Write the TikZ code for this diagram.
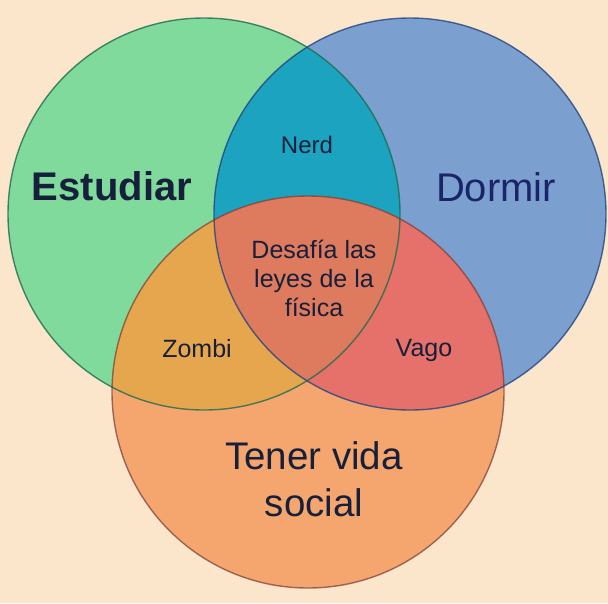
\documentclass[tikz,border=0pt]{standalone}
\usepackage{fontspec}
\setmainfont{Liberation Sans}
\definecolor{paper}{HTML}{FBE6CC}
\definecolor{estfill}{HTML}{80DA9C}
\definecolor{dorfill}{HTML}{7BA0D0}
\definecolor{socfill}{HTML}{F5A66E}
\definecolor{nerdfill}{HTML}{1BA3C0}
\definecolor{zombifill}{HTML}{E6A64E}
\definecolor{vagofill}{HTML}{E6706A}
\definecolor{corefill}{HTML}{DE7A5E}
\definecolor{estline}{HTML}{1F6B4F}
\definecolor{dorline}{HTML}{24457F}
\definecolor{socline}{HTML}{7A3A34}
\definecolor{inkdark}{HTML}{16203A}
\definecolor{inknavy}{HTML}{1B2468}

\begin{document}
\begin{tikzpicture}[x=1pt,y=-1pt,
    set label/.style={anchor=base,font=\fontsize{40}{44}\selectfont,text=inkdark},
    part label/.style={anchor=base,font=\fontsize{25}{29}\selectfont,text=inkdark,align=center}
                      ]
   \useasboundingbox (0,0) rectangle (608,603);
   \fill[paper] (0,0) rectangle (608,603);
   % centres of the three sets
   \coordinate (est) at (204,214);
   \coordinate (dor) at (410,214);
   \coordinate (soc) at (308,392);
   \def\rad{196pt}
   % plain discs
   \fill[estfill] (est) circle[radius=\rad];
   \fill[dorfill] (dor) circle[radius=\rad];
   \fill[socfill] (soc) circle[radius=\rad];
   % overlaps
   \begin{scope}
     \clip (est) circle[radius=\rad];
     \fill[nerdfill] (dor) circle[radius=\rad];
     \fill[zombifill] (soc) circle[radius=\rad];
   \end{scope}
   \begin{scope}
     \clip (dor) circle[radius=\rad];
     \fill[vagofill] (soc) circle[radius=\rad];
     \clip (est) circle[radius=\rad];
     \fill[corefill] (soc) circle[radius=\rad];
   \end{scope}
   % rims
   \draw[estline,line width=1.4pt,opacity=.8] (est) circle[radius=\rad];
   \draw[dorline,line width=1.4pt,opacity=.8] (dor) circle[radius=\rad];
   \draw[socline,line width=1.4pt,opacity=.7] (soc) circle[radius=\rad];
   % labels (base = last line)
   \node[set label,font=\fontsize{40}{44}\selectfont\bfseries] (estudiar) at (112,200) {Estudiar};
   \node[set label,text=inknavy] (dormir) at (496,201) {Dormir};
   \node[part label,font=\fontsize{38.5}{47}\selectfont] (vida) at (314,516) {Tener vida\\social};
   \node[part label,font=\fontsize{24}{28}\selectfont] (nerd) at (307,153) {Nerd};
   \node[part label] (zombi) at (197,357) {Zombi};
   \node[part label] (vago) at (424,356) {Vago};
   \node[part label] (fisica) at (314,316) {Desafía las\\leyes de la\\física};
\end{tikzpicture}
\end{document}
